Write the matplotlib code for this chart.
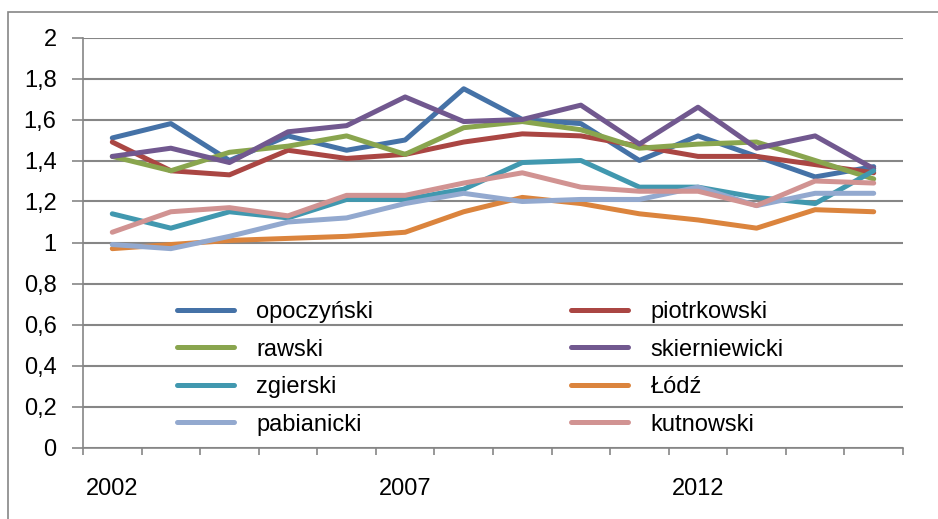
import numpy as np
import matplotlib
matplotlib.use("Agg")
import matplotlib.pyplot as plt
from matplotlib.patches import Rectangle

years = list(range(2002, 2016))
opoczynski = [1.51, 1.58, 1.40, 1.52, 1.45, 1.50, 1.75, 1.60, 1.58, 1.40, 1.52, 1.42, 1.32, 1.37]
piotrkowski = [1.49, 1.35, 1.33, 1.45, 1.41, 1.43, 1.49, 1.53, 1.52, 1.47, 1.42, 1.42, 1.38, 1.34]
rawski = [1.42, 1.35, 1.44, 1.47, 1.52, 1.43, 1.56, 1.59, 1.55, 1.46, 1.48, 1.49, 1.40, 1.31]
skierniewicki = [1.42, 1.46, 1.39, 1.54, 1.57, 1.71, 1.59, 1.60, 1.67, 1.48, 1.66, 1.46, 1.52, 1.36]
zgierski = [1.14, 1.07, 1.15, 1.12, 1.21, 1.21, 1.26, 1.39, 1.40, 1.27, 1.27, 1.22, 1.19, 1.35]
lodz = [0.97, 0.99, 1.01, 1.02, 1.03, 1.05, 1.15, 1.22, 1.19, 1.14, 1.11, 1.07, 1.16, 1.15]
pabianicki = [0.99, 0.97, 1.03, 1.10, 1.12, 1.19, 1.24, 1.20, 1.21, 1.21, 1.27, 1.18, 1.24, 1.24]
kutnowski = [1.05, 1.15, 1.17, 1.13, 1.23, 1.23, 1.29, 1.34, 1.27, 1.25, 1.25, 1.18, 1.30, 1.29]

names = ["opoczyński", "piotrkowski", "rawski", "skierniewicki",
         "zgierski", "Łódź", "pabianicki", "kutnowski"]
series = [opoczynski, piotrkowski, rawski, skierniewicki,
          zgierski, lodz, pabianicki, kutnowski]
colors = ["#4572A7", "#AA4643", "#89A54E", "#71588F",
          "#4198AF", "#DB843D", "#93A9CF", "#D19392"]

yticks = np.arange(0, 2.01, 0.2)
ytick_labels = ["0", "0,2", "0,4", "0,6", "0,8", "1", "1,2", "1,4", "1,6", "1,8", "2"]
xlabel_years = [2002, 2007, 2012]

plt.rcParams['font.family'] = ['Liberation Sans', 'DejaVu Sans']
W, H = 938, 519
fig = plt.figure(figsize=(W / 100, H / 100), dpi=100)
# chart border (only top/left visible in the crop)
fig.patches.append(Rectangle((8 / W, -0.1), 1.2, (H - 12) / H + 0.1, transform=fig.transFigure,
                             fill=False, edgecolor="#868686", linewidth=1.2))

ax = fig.add_axes([83 / W, (H - 447.5) / H, 820 / W, 410 / H])
x = np.arange(len(years))
handles = []
for name, vals, c in zip(names, series, colors):
    h, = ax.plot(x, vals, color=c, linewidth=3.6, solid_joinstyle="round",
                 solid_capstyle="round", label=name)
    handles.append(h)

ax.set_xlim(-0.5, len(years) - 0.5)
ax.set_ylim(0, 2)
ax.set_yticks(yticks)
ax.set_yticklabels(ytick_labels)
ax.set_xticks(np.arange(-0.5, len(years), 1))
ax.set_xticklabels([])
ax.set_xticks([years.index(y) for y in xlabel_years], minor=True)
ax.set_xticklabels([str(y) for y in xlabel_years], minor=True)

ax.tick_params(axis="y", direction="out", length=8, width=1.2, color="#868686",
               labelsize=17, pad=11)
ax.tick_params(axis="x", which="major", direction="out", length=5, width=1.2, color="#868686")
ax.tick_params(axis="x", which="minor", length=0, labelsize=17, pad=22)

ax.yaxis.grid(True, color="#868686", linewidth=1.5)
ax.set_axisbelow(True)
for s in ["top", "right"]:
    ax.spines[s].set_visible(False)
for s in ["left", "bottom"]:
    ax.spines[s].set_color("#868686")
    ax.spines[s].set_linewidth(1.2)

order = [0, 2, 4, 6, 1, 3, 5, 7]
leg = ax.legend([handles[i] for i in order], [names[i] for i in order], ncol=2,
                loc="upper left", bbox_to_anchor=(177 / W, (H - 301) / H),
                bbox_transform=fig.transFigure, frameon=False, fontsize=17,
                handlelength=2.4, handletextpad=0.95, columnspacing=8.4,
                labelspacing=0.66, borderpad=0, borderaxespad=0)
for lh in leg.get_lines():
    lh.set_linewidth(3.6)

fig.savefig("out.png", dpi=100)
